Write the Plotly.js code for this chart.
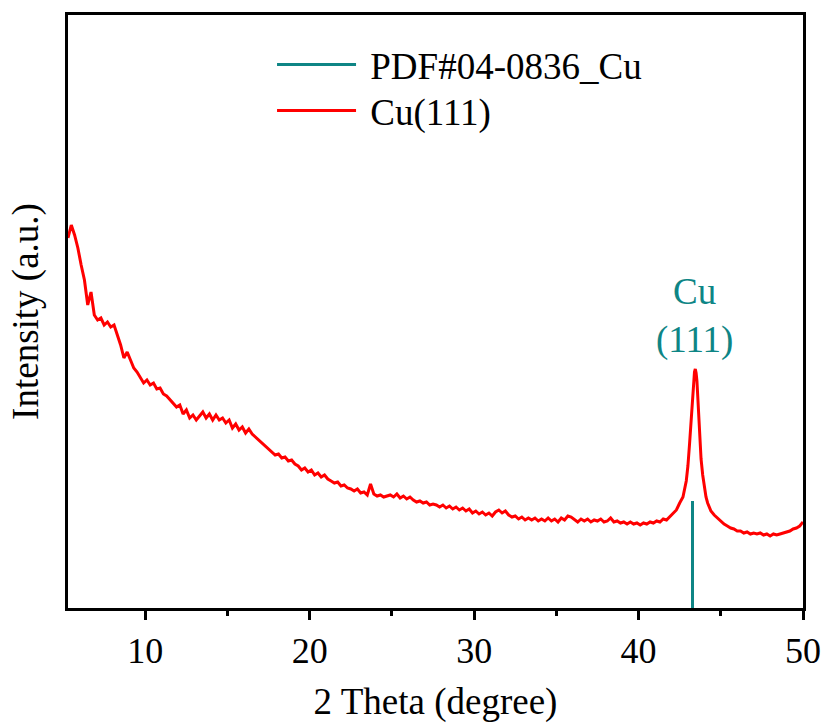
<!DOCTYPE html>
<html>
<head>
<meta charset="utf-8">
<script src="https://cdn.plot.ly/plotly-3.0.1.min.js"></script>
<style>
  html, body { margin: 0; padding: 0; background: #ffffff; }
</style>
</head>
<body>
<div id="chart"></div>
<script>
// 2 Theta (degree) of the measured pattern
const twoTheta = [
  5.3, 5.5, 5.7, 5.9, 6.1, 6.3, 6.5, 6.7, 6.9, 7.1, 7.3, 7.5, 7.7, 7.9, 8.1, 8.3, 8.5, 8.7, 8.9,
  9.1, 9.3, 9.5, 9.7, 9.9, 10.1, 10.3, 10.5, 10.7, 10.9, 11.1, 11.3, 11.5, 11.7, 11.9,
  12.1, 12.3, 12.5, 12.7, 12.9, 13.1, 13.3, 13.5, 13.7, 13.9, 14.1, 14.3, 14.5, 14.7, 14.9,
  15.1, 15.3, 15.5, 15.7, 15.9, 16.1, 16.3, 16.5, 16.7, 16.9, 17.1, 17.3, 17.5, 17.7, 17.9,
  18.1, 18.3, 18.5, 18.7, 18.9, 19.1, 19.3, 19.5, 19.7, 19.9, 20.1, 20.3, 20.5, 20.7, 20.9,
  21.1, 21.3, 21.5, 21.7, 21.9, 22.1, 22.3, 22.5, 22.7, 22.9, 23.1, 23.3, 23.5, 23.7, 23.9,
  24.1, 24.3, 24.5, 24.7, 24.9, 25.1, 25.3, 25.5, 25.7, 25.9, 26.1, 26.3, 26.5, 26.7, 26.9,
  27.1, 27.3, 27.5, 27.7, 27.9, 28.1, 28.3, 28.5, 28.7, 28.9, 29.1, 29.3, 29.5, 29.7, 29.9,
  30.1, 30.3, 30.5, 30.7, 30.9, 31.1, 31.3, 31.5, 31.7, 31.9, 32.1, 32.3, 32.5, 32.7, 32.9,
  33.1, 33.3, 33.5, 33.7, 33.9, 34.1, 34.3, 34.5, 34.7, 34.9, 35.1, 35.3, 35.5, 35.7, 35.9,
  36.1, 36.3, 36.5, 36.7, 36.9, 37.1, 37.3, 37.5, 37.7, 37.9, 38.1, 38.3, 38.5, 38.7, 38.9,
  39.1, 39.3, 39.5, 39.7, 39.9, 40.1, 40.3, 40.5, 40.7, 40.9, 41.1, 41.3, 41.5, 41.7, 41.9,
  42.1, 42.3, 42.5, 42.7, 42.9, 43.0, 43.1, 43.2, 43.3, 43.4, 43.45, 43.5, 43.55, 43.6, 43.7,
  43.8, 43.9, 44.0, 44.1, 44.2, 44.4, 44.6, 44.8, 45.0, 45.2, 45.4, 45.6, 45.8, 46.0, 46.2,
  46.4, 46.6, 46.8, 47.0, 47.2, 47.4, 47.6, 47.8, 48.0, 48.2, 48.4, 48.6, 48.8, 49.0, 49.2,
  49.4, 49.6, 49.8, 50.0
];

// Intensity (a.u.) of the Cu(111) sample
const intensity = [
  371, 384, 374, 361, 344, 329, 304, 317, 294, 289, 291, 284, 287, 282, 284, 274, 264, 251, 257,
  249, 241, 237, 231, 226, 229, 224, 226, 220, 221, 215, 213, 209, 206, 202,
  204, 195, 199, 191, 194, 189, 193, 197, 191, 195, 189, 194, 189, 191, 186,
  189, 181, 185, 179, 182, 176, 180, 175, 172, 169, 166, 163, 160, 157, 154,
  155, 151, 152, 148, 149, 145, 143, 139, 141, 137, 139, 134, 136, 132, 134,
  130, 128, 126, 127, 123, 124, 121, 120, 118, 120, 116, 117, 114, 125, 115,
  113, 114, 112, 113, 114, 112, 115, 111, 113, 110, 112, 109, 107, 108, 106,
  107, 104, 105, 104, 102, 104, 101, 103, 100, 102, 99, 101, 98, 100, 96,
  98, 95, 97, 94, 96, 93, 97, 99, 96, 98, 94, 92, 93, 90, 92,
  89, 91, 89, 91, 88, 90, 88, 91, 88, 90, 87, 91, 89, 93, 92,
  89, 87, 90, 88, 90, 87, 89, 88, 90, 87, 88, 91, 87, 88, 86,
  87, 85, 87, 85, 86, 84, 86, 85, 87, 86, 88, 87, 90, 89, 92,
  95, 99, 106, 112, 128, 143, 165, 190, 220, 237, 240, 236, 228, 214, 175,
  150, 134, 120, 112, 106, 98, 94, 91, 87, 85, 83, 81, 80, 78, 78,
  76, 77, 75, 76, 75, 76, 74, 75, 73, 75, 74, 75, 76, 77, 78,
  80, 81, 83, 87
];

// Reference pattern PDF#04-0836 (Cu)
const refPos = [43.28];
const refInt = [108];

const seriesNames = ['PDF#04-0836_Cu', 'Cu(111)'];

const teal = '#0e8585';
const fontName = 'Times New Roman';

// build stick lines from the reference arrays
const stickX = [], stickY = [];
refPos.forEach((p, i) => { stickX.push(p, p, null); stickY.push(0, refInt[i], null); });

const traces = [
  {
    x: stickX, y: stickY, type: 'scatter', mode: 'lines',
    name: '&nbsp;' + seriesNames[0], legend: 'legend',
    line: { color: teal, width: 3 },
    hoverinfo: 'skip'
  },
  {
    x: twoTheta, y: intensity, type: 'scatter', mode: 'lines',
    name: '&nbsp;' + seriesNames[1], legend: 'legend2',
    line: { color: '#ff0000', width: 3 }
  }
];

const legendCommon = {
  xanchor: 'left', yanchor: 'middle',
  bgcolor: 'rgba(0,0,0,0)', borderwidth: 0,
  font: { family: fontName, size: 37, color: '#000000' },
  itemwidth: 79
};

const layout = {
  width: 826, height: 727,
  margin: { l: 68, r: 23, t: 15, b: 119 },
  paper_bgcolor: '#ffffff', plot_bgcolor: '#ffffff',
  font: { family: fontName, color: '#000000', size: 36 },
  showlegend: true,
  legend: Object.assign({ x: 0.2776, y: 0.9157 }, legendCommon),
  legend2: Object.assign({ x: 0.2776, y: 0.838 }, legendCommon),
  xaxis: {
    range: [5.3, 50],
    showgrid: false, zeroline: false,
    showline: true, linecolor: '#000000', linewidth: 3, mirror: true,
    ticks: 'outside', ticklen: 9, tickwidth: 3, tickcolor: '#000000',
    tick0: 0, dtick: 10,
    minor: { ticks: 'outside', ticklen: 5, tickwidth: 3, tickcolor: '#000000', dtick: 5, showgrid: false },
    tickfont: { family: fontName, size: 36, color: '#000000' },
    title: { text: '2 Theta (degree)', font: { family: fontName, size: 37, color: '#000000' }, standoff: 18 }
  },
  yaxis: {
    range: [1, 594],
    showgrid: false, zeroline: false,
    showline: true, linecolor: '#000000', linewidth: 3, mirror: true,
    ticks: '', showticklabels: false,
    title: { text: 'Intensity (a.u.)', font: { family: fontName, size: 37, color: '#000000' }, standoff: 16 }
  },
  annotations: [
    {
      x: 43.4, y: 246, xref: 'x', yref: 'y',
      text: 'Cu<br>(111)', showarrow: false,
      xanchor: 'center', yanchor: 'bottom',
      font: { family: fontName, size: 37, color: teal }
    }
  ]
};

Plotly.newPlot('chart', traces, layout, { displayModeBar: false, staticPlot: true });
</script>
</body>
</html>
